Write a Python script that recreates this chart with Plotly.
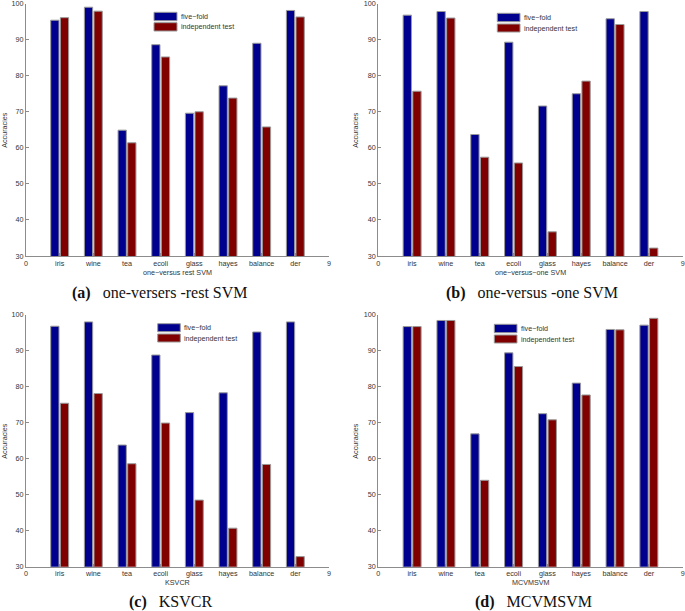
import plotly.graph_objects as go

W, H = 685, 611

categories = ["iris", "wine", "tea", "ecoli", "glass", "hayes", "balance", "der"]
x_pos = [1, 2, 3, 4, 5, 6, 7, 8]
tick_vals = [0, 1, 2, 3, 4, 5, 6, 7, 8, 9]
tick_text = ["0"] + categories + ["9"]
y_ticks = [30, 40, 50, 60, 70, 80, 90, 100]

series_names = ["five\u2212fold", "independent test"]

a_five = [95.4, 99.0, 64.9, 88.6, 69.6, 77.2, 89.0, 98.1]
a_ind = [96.1, 97.9, 61.4, 85.2, 70.0, 73.8, 65.8, 96.3]
b_five = [96.8, 97.8, 63.7, 89.3, 71.6, 75.0, 95.8, 97.8]
b_ind = [75.7, 96.0, 57.4, 55.8, 36.7, 78.5, 94.2, 32.2]
c_five = [96.8, 98.0, 63.8, 88.8, 72.8, 78.3, 95.2, 98.0]
c_ind = [75.4, 78.1, 58.6, 69.9, 48.5, 40.7, 58.4, 32.8]
d_five = [96.7, 98.4, 66.9, 89.4, 72.5, 81.0, 95.9, 97.1]
d_ind = [96.7, 98.4, 54.0, 85.6, 70.8, 77.7, 95.8, 99.0]

x_titles = ["one\u2212versus rest SVM", "one\u2212versus\u2212one SVM", "KSVCR", "MCVMSVM"]
captions = [
    ("(a)", "one-versers -rest SVM"),
    ("(b)", "one-versus -one SVM"),
    ("(c)", "KSVCR"),
    ("(d)", "MCVMSVM"),
]

BLUE = "#00008f"
RED = "#800000"
EDGE = "#9a9a9a"
TXT = "#333333"
SANS = "Liberation Sans, Arial, sans-serif"
SERIF = "Liberation Serif, Times New Roman, serif"
FS = 7.2


def px(x):
    return x / W


def py(y):
    return 1 - y / H


# panel geometry in pixels: (x_left, x_right, y_top, y_bottom)
panels = [
    (26, 329, 3.6, 256),
    (378.3, 682.7, 3.6, 256),
    (26, 329, 314.7, 566.7),
    (378.3, 682.7, 314.7, 566.7),
]
data = [(a_five, a_ind), (b_five, b_ind), (c_five, c_ind), (d_five, d_ind)]

# legend patches (x0, x1, row1 y0, row1 y1, row2 y0, row2 y1)
legends = [
    (154, 177, 12.3, 20.7, 22.7, 31.0),
    (497.3, 520, 13.3, 21.7, 24.0, 32.0),
    (157.7, 180.3, 323.7, 331.7, 334.0, 342.0),
    (494.3, 517, 324.3, 332.7, 335.0, 343.0),
]
caption_pos = [(160, 293), (532, 293), (170, 601.5), (533, 601.5)]
xtitle_y = [272, 272, 582.5, 582.5]
ytitle_x = [5, 356, 5, 356]

fig = go.Figure()
shapes = []
annotations = []

for i, ((fv, iv), (xl, xr, yt, yb)) in enumerate(zip(data, panels)):
    n = "" if i == 0 else str(i + 1)
    xa, ya = "x" + n, "y" + n
    for vals, color, name in ((fv, BLUE, series_names[0]), (iv, RED, series_names[1])):
        fig.add_trace(go.Bar(
            x=x_pos, y=vals, name=name, xaxis=xa, yaxis=ya,
            marker=dict(color=color, line=dict(color=EDGE, width=1)),
            showlegend=False, hoverinfo="x+y",
        ))
    axis_common = dict(showgrid=False, zeroline=False, showline=True, linecolor="#8c8c8c",
                       linewidth=1, ticks="inside", ticklen=3, tickcolor="#8c8c8c",
                       tickfont=dict(family=SANS, size=FS, color=TXT), automargin=False,
                       ticklabeloverflow="allow")
    fig.layout["xaxis" + n] = dict(
        domain=[px(xl), px(xr)], range=[0, 9], tickmode="array", tickvals=tick_vals,
        ticktext=tick_text, anchor=ya, fixedrange=True, **axis_common)
    fig.layout["yaxis" + n] = dict(
        domain=[py(yb), py(yt)], range=[30, 100], tickmode="array", tickvals=y_ticks,
        anchor=xa, fixedrange=True, **axis_common)

    # axis titles
    annotations.append(dict(text=x_titles[i], x=px((xl + xr) / 2), y=py(xtitle_y[i]),
                            xref="paper", yref="paper", showarrow=False,
                            xanchor="center", yanchor="middle",
                            font=dict(family=SANS, size=FS, color=TXT)))
    annotations.append(dict(text="Accuracies", x=px(ytitle_x[i]), y=py((yt + yb) / 2),
                            xref="paper", yref="paper", showarrow=False, textangle=-90,
                            xanchor="center", yanchor="middle",
                            font=dict(family=SANS, size=FS, color=TXT)))
    # legend
    lx0, lx1, r1a, r1b, r2a, r2b = legends[i]
    for (ya0, ya1, col, name) in ((r1a, r1b, BLUE, series_names[0]), (r2a, r2b, RED, series_names[1])):
        shapes.append(dict(type="rect", xref="paper", yref="paper",
                           x0=px(lx0), x1=px(lx1), y0=py(ya1), y1=py(ya0),
                           fillcolor=col, line=dict(color=EDGE, width=1)))
        annotations.append(dict(text=name, x=px(lx1 + 2), y=py((ya0 + ya1) / 2),
                                xref="paper", yref="paper", showarrow=False,
                                xanchor="left", yanchor="middle",
                                font=dict(family=SANS, size=FS, color=TXT)))
    # caption
    lab, txt = captions[i]
    cx, cy = caption_pos[i]
    annotations.append(dict(text="<b>" + lab + "</b>\u00a0\u00a0 " + txt, x=px(cx), y=py(cy),
                            xref="paper", yref="paper", showarrow=False,
                            xanchor="center", yanchor="middle",
                            font=dict(family=SERIF, size=16, color="#111111")))

fig.update_layout(
    width=W, height=H, margin=dict(l=0, r=0, t=0, b=0),
    paper_bgcolor="white", plot_bgcolor="white",
    barmode="group", bargap=0.428, bargroupgap=0.14,
    shapes=shapes, annotations=annotations, showlegend=False,
)

fig.write_html(
    "out.html",
    config={"displayModeBar": False},
    post_script="document.body.style.margin='0';document.body.style.padding='0';"
                "document.body.style.overflow='hidden';",
)
